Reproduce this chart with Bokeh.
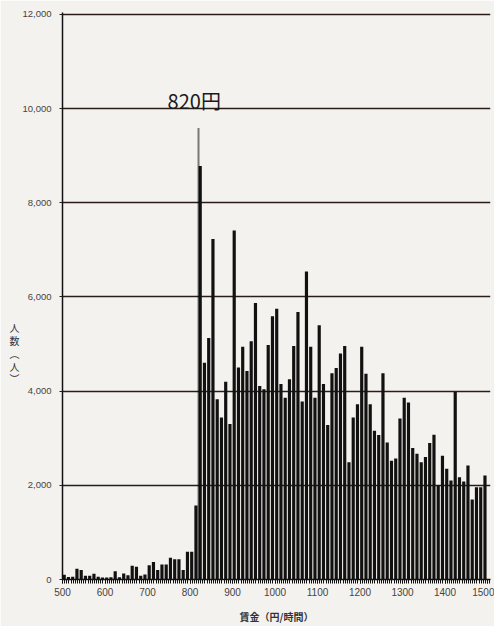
from bokeh.plotting import figure
from bokeh.models import SingleIntervalTicker, NumeralTickFormatter, Label, Range1d
from bokeh.embed import file_html
from bokeh.resources import INLINE

# wage bins (yen/hour), lower edge of each 10-yen bin
wage_bins = list(range(500, 1500, 10))
# number of people in each bin
people = [
    100, 55, 60, 230, 200, 80, 80, 120, 60, 40,
    40, 50, 175, 50, 125, 90, 290, 270, 80, 105,
    300, 370, 200, 320, 320, 460, 430, 430, 200, 590,
    590, 1570, 8780, 4600, 5130, 7230, 3830, 3440, 4200, 3300,
    7410, 4500, 4940, 4430, 5060, 5870, 4110, 4040, 4980, 5590,
    5750, 4150, 3860, 4250, 4960, 5680, 3780, 6540, 4940, 3860,
    5400, 4150, 3280, 4380, 4490, 4800, 4960, 2490, 3440, 3720,
    4940, 4370, 3720, 3160, 3070, 4380, 2910, 2520, 2570, 3420,
    3860, 3760, 2790, 2670, 2490, 2600, 2900, 3075, 2000, 2630,
    2350, 2100, 3980, 2170, 2080, 2420, 1700, 1960, 1960, 2210,
]
min_wage = 820
min_wage_label = "820円"
x_label = "賃金（円/時間）"
y_label = "人\n数\n︵\n人\n︶"
bin_width = 10

paper = "#f4f2ee"
ink = "#111111"

p = figure(width=494, height=626, output_backend="svg", toolbar_location=None,
           x_range=Range1d(500, 1507), y_range=Range1d(0, 12040),
           min_border_left=62, min_border_right=4, min_border_top=12, min_border_bottom=45,
           background_fill_color=paper, border_fill_color=paper)
p.outline_line_color = None

centers = [b + bin_width * 0.4 for b in wage_bins]
p.vbar(x=centers, top=people, width=bin_width * 0.75, bottom=0,
       fill_color=ink, line_color=None)

# dotted marker line at minimum wage
p.segment(x0=[min_wage], y0=[0], x1=[min_wage], y1=[9600],
          line_color="#000000", line_width=2, line_dash="1 1")

p.add_layout(Label(x=min_wage - 10, y=9870, text=min_wage_label,
                   text_font="Noto Sans CJK JP", text_font_size="20px",
                   text_align="center", text_baseline="bottom", text_color="#1a1a1a"))

# axes
p.xaxis.ticker = SingleIntervalTicker(interval=100, num_minor_ticks=20)
p.xaxis.axis_line_color = ink
p.xaxis.axis_line_width = 1.5
p.xaxis.major_tick_line_color = ink
p.xaxis.minor_tick_line_color = ink
p.xaxis.major_tick_in = 0
p.xaxis.major_tick_out = 4
p.xaxis.minor_tick_in = 0
p.xaxis.minor_tick_out = 4
p.xaxis.major_label_text_font = "Liberation Sans"
p.xaxis.major_label_text_font_size = "10px"
p.xaxis.major_label_text_color = "#444444"
p.xaxis.major_label_standoff = 4
p.xaxis.axis_label = x_label
p.xaxis.axis_label_text_font = "Noto Sans CJK JP"
p.xaxis.axis_label_text_font_size = "10px"
p.xaxis.axis_label_text_font_style = "bold"
p.xaxis.axis_label_text_color = "#333333"
p.xaxis.axis_label_standoff = 10

p.yaxis.ticker = SingleIntervalTicker(interval=2000, num_minor_ticks=0)
p.yaxis.formatter = NumeralTickFormatter(format="0,0")
p.yaxis.axis_line_color = ink
p.yaxis.axis_line_width = 1.5
p.yaxis.major_tick_line_color = "#2a1d18"
p.yaxis.major_tick_in = 0
p.yaxis.major_tick_out = 3
p.yaxis.minor_tick_line_color = None
p.yaxis.major_label_text_font = "Liberation Sans"
p.yaxis.major_label_text_font_size = "9.5px"
p.yaxis.major_label_text_color = "#444444"
p.yaxis.major_label_standoff = 8
# stacked (upright) axis title, pushed down by leading blank lines
p.yaxis.axis_label = "\u3000\n" * 9 + y_label
p.yaxis.axis_label_orientation = "horizontal"
p.yaxis.axis_label_text_font = "Noto Sans CJK JP"
p.yaxis.axis_label_text_font_size = "10px"
p.yaxis.axis_label_text_font_style = "normal"
p.yaxis.axis_label_text_line_height = 0.85
p.yaxis.axis_label_text_color = "#333333"
p.yaxis.axis_label_standoff = 0

p.xgrid.grid_line_color = None
p.ygrid.ticker = SingleIntervalTicker(interval=2000)
p.ygrid.grid_line_color = "#2a1d18"
p.ygrid.grid_line_width = 1.6

open("out.html", "w").write(file_html(p, INLINE))
